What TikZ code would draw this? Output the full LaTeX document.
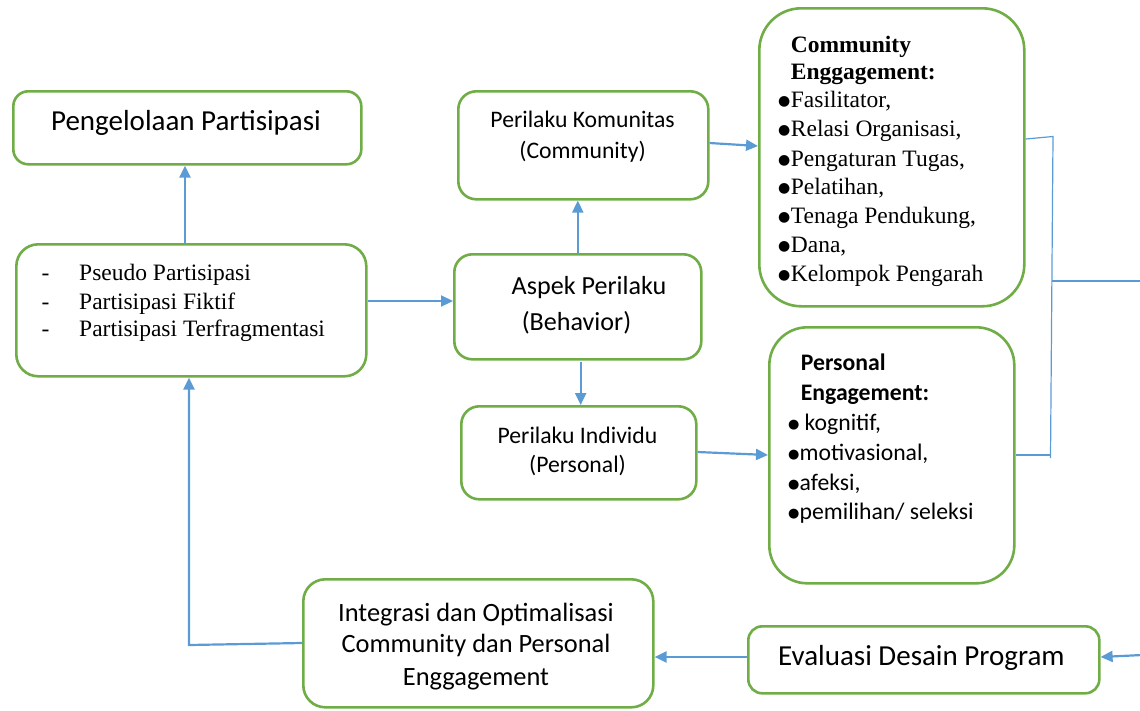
\documentclass[tikz,border=0pt]{standalone}
\usepackage{fontspec}
\setmainfont{Liberation Serif}
\newfontfamily\calfont{Carlito}
\newfontfamily\djv{DejaVu Sans}
\usetikzlibrary{arrows.meta}
\definecolor{grn}{HTML}{70AD47}
\definecolor{blu}{HTML}{5B9BD5}
\newcommand{\mybul}{\makebox[12.7pt][l]{\raisebox{2pt}{\djv\fontsize{14}{14}\selectfont ●}}}
\newcommand{\mycbul}{\makebox[11.5pt][l]{\raisebox{2pt}{\djv\fontsize{13}{13}\selectfont ●}}}
\begin{document}
\begin{tikzpicture}[x=1pt,y=-1pt,
  box/.style={draw=grn,line width=2.6pt,fill=white,anchor=north west,inner sep=0pt},
  conn/.style={draw=blu,line width=2.2pt,-{Triangle[length=12pt,width=11pt]}},
  thinline/.style={draw=blu,line width=1.2pt},
  cal/.style={font=\calfont\fontsize{#1}{#1}\selectfont,inner sep=0pt},
  tnr/.style={font=\fontsize{23.5}{23.5}\selectfont,inner sep=0pt,anchor=base west},
  tnrb/.style={font=\bfseries\fontsize{23.5}{23.5}\selectfont,inner sep=0pt,anchor=base west}]
\useasboundingbox (0,0) rectangle (1140,710);

% boxes
\node[box,rounded corners=15pt,minimum width=348pt,minimum height=73pt] (peng) at (12,90) {};
\node[box,rounded corners=22pt,minimum width=350pt,minimum height=132pt] (list) at (15,243) {};
\node[box,rounded corners=18pt,minimum width=250pt,minimum height=108pt] (kom) at (457,90) {};
\node[box,rounded corners=18pt,minimum width=247pt,minimum height=105pt] (asp) at (453,253) {};
\node[box,rounded corners=18pt,minimum width=235pt,minimum height=93pt] (ind) at (460,405) {};
\node[box,rounded corners=42pt,minimum width=265pt,minimum height=298pt] (ce) at (758,7) {};
\node[box,rounded corners=38pt,minimum width=245pt,minimum height=256pt] (pe) at (768,326) {};
\node[box,rounded corners=22pt,minimum width=350pt,minimum height=128pt] (integ) at (302,578) {};
\node[box,rounded corners=14pt,minimum width=351pt,minimum height=67pt] (eval) at (747,625) {};

% centered texts
\node[cal=29,anchor=base] (tpeng) at (186,130) {Pengelolaan Partisipasi};
\node[cal=23.7,anchor=base] (tkom1) at (582.6,127.5) {Perilaku Komunitas};
\node[cal=23.7,anchor=base] (tkom2) at (582.6,158.5) {(Community)};
\node[cal=26.1,anchor=base] (tasp1) at (589,294) {Aspek Perilaku};
\node[cal=26.1,anchor=base] (tasp2) at (576.5,330) {(Behavior)};
\node[cal=23.7,anchor=base] (tind1) at (577.5,443.3) {Perilaku Individu};
\node[cal=23.7,anchor=base] (tind2) at (577.5,472.7) {(Personal)};
\node[cal=26.4,anchor=base] (tint1) at (476,621.7) {Integrasi dan Optimalisasi};
\node[cal=26.4,anchor=base] (tint2) at (476,652.5) {Community dan Personal};
\node[cal=26.4,anchor=base] (tint3) at (476,685) {Enggagement};
\node[cal=29,anchor=base] (teval) at (921.4,665) {Evaluasi Desain Program};

% left list
\foreach \y/\t [count=\i] in {280.7/Pseudo Partisipasi,309/Partisipasi Fiktif,336.7/Partisipasi Terfragmentasi}{
  \node[tnr] (ld\i) at (41.5,\y) {-};
  \node[tnr] (lt\i) at (79,\y) {\t};
}

% community engagement
\node[tnrb] (ceh1) at (790.7,52.3) {Community};
\node[tnrb] (ceh2) at (790.7,79) {Enggagement:};
\foreach \y/\t [count=\i] in {107.3/Fasilitator{,},136.7/Relasi Organisasi{,},166/Pengaturan Tugas{,},194.5/Pelatihan{,},223.3/Tenaga Pendukung{,},252.3/Dana{,}}{
  \node[tnr] (ceb\i) at (778,\y) {\mybul\t};
}
\begin{scope}
\clip (760,260) rectangle (1020,287);
\node[tnr] (ceb7) at (778,281) {\mybul Kelompok Pengarah};
\end{scope}

% personal engagement
\node[cal=23.7,font=\calfont\bfseries\fontsize{23.7}{23.7}\selectfont,anchor=base west] (peh1) at (800.7,370) {Personal};
\node[cal=23.7,font=\calfont\bfseries\fontsize{23.7}{23.7}\selectfont,anchor=base west] (peh2) at (800.7,400) {Engagement:};
\node[cal=23.7,anchor=base west] (peb1) at (788,430) {\mycbul\hspace{5pt}kognitif,};
\node[cal=23.7,anchor=base west] (peb2) at (788,460) {\mycbul motivasional,};
\node[cal=23.7,anchor=base west] (peb3) at (788,490) {\mycbul afeksi,};
\node[cal=23.7,anchor=base west] (peb4) at (788,519) {\mycbul pemilihan/ seleksi};

% connectors
\draw[conn] (list.north -| 185,0) -- (peng.south -| 185,0);
\draw[conn] (list.east |- 0,301) -- (asp.west |- 0,301);
\draw[conn] (asp.north) -- (asp.north |- kom.south);
\coordinate (aspb) at (580.7,362);
\draw[conn] (aspb) -- (aspb |- ind.north);
\draw[conn] (kom.east |- 0,143) -- (ce.west |- 0,146);
\draw[conn] (ind.east |- 0,452) -- (pe.west |- 0,455);
\draw[conn] (eval.west |- 0,657) -- (integ.east |- 0,657);
\coordinate (rin) at (1142,655);
\draw[conn] (rin) -- (eval.east |- 0,657);
\coordinate (lc) at (189,645);
\draw[conn] (integ.west |- 0,643) -- (lc) -- (lc |- list.south);

% bracket
\coordinate (bt) at (1053,136.5);
\coordinate (bb) at (1050.5,458);
\coordinate (bm) at (1051.5,281);
\coordinate (bout) at (1142,281);
\draw[thinline] (ce.east |- 0,139) -- (bt) -- (bb);
\draw[thinline] (bb |- 0,455) -- (pe.east |- 0,455);
\draw[thinline] (bm) -- (bout);
\end{tikzpicture}
\end{document}
